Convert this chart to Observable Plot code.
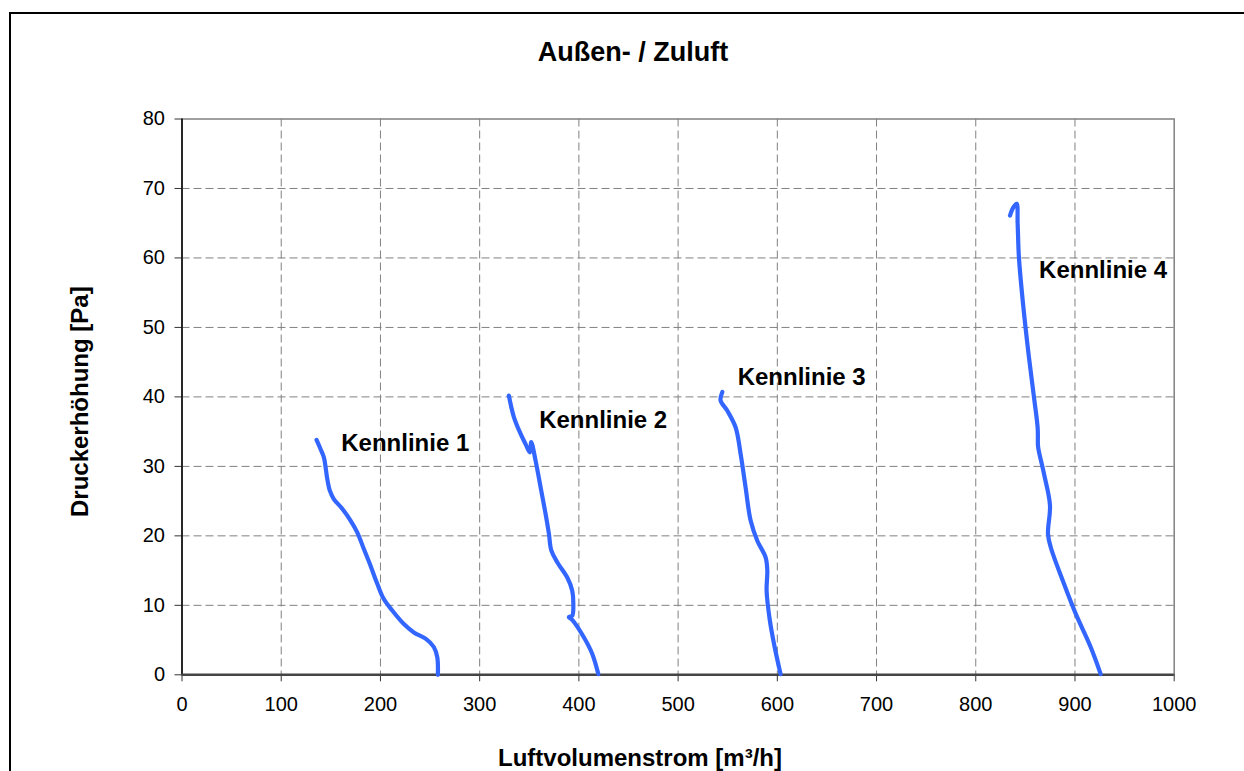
<!DOCTYPE html>
<html>
<head>
<meta charset="utf-8">
<script src="https://cdn.jsdelivr.net/npm/d3@7"></script>
<script src="https://cdn.jsdelivr.net/npm/@observablehq/plot@0.6"></script>
<style>
  html, body { margin: 0; padding: 0; background: #fff; overflow: hidden; }
  #wrap { position: relative; width: 1244px; height: 771px; overflow: hidden; }
  #border { position: absolute; left: 9px; top: 12px; width: 1400px; height: 900px;
            border-left: 2px solid #000; border-top: 2px solid #000; pointer-events: none; }
  #chart { position: absolute; left: 0; top: 0; }
</style>
</head>
<body>
<div id="wrap">
  <div id="border"></div>
  <div id="chart"></div>
</div>
<script>
// ---- data ----
const chartTitle = "Außen- / Zuluft";
const xTitle = "Luftvolumenstrom [m³/h]";
const yTitle = "Druckerhöhung [Pa]";

const xTicks = [0, 100, 200, 300, 400, 500, 600, 700, 800, 900, 1000];
const yTicks = [0, 10, 20, 30, 40, 50, 60, 70, 80];
const xGrid = [100, 200, 300, 400, 500, 600, 700, 800, 900];
const yGrid = [10, 20, 30, 40, 50, 60, 70];

const k1Flow = [135.6, 139.6, 143.0, 144.7, 146.4, 149.0, 153.0, 161.5, 169.9, 176.6, 183.3, 190.0, 196.8, 203.4, 211.9, 223.6, 233.7, 245.5, 253.8, 257.3, 257.9];
const k1Pres = [33.8, 32.5, 31.3, 29.9, 28.2, 26.5, 25.3, 23.9, 22.2, 20.5, 18.1, 15.7, 13.1, 10.9, 9.25, 7.3, 6.1, 5.2, 4.0, 2.5, 0];

const k2Flow = [329.4, 334.5, 341.2, 346.3, 350.6, 352.0, 356.4, 361.4, 366.4, 369.8, 372.2, 378.2, 388.3, 393.3, 394.4, 393.3, 389.9, 393.3, 405.0, 413.5, 419.6];
const k2Pres = [40.2, 37.1, 34.7, 33.2, 32.0, 33.5, 30.8, 27.0, 23.2, 20.3, 17.9, 16.2, 14.0, 12.1, 10.2, 8.5, 8.3, 7.9, 5.4, 3.0, 0.1];

const k3Flow = [544.6, 542.8, 549.6, 558.0, 563.0, 568.0, 573.1, 579.8, 588.2, 589.9, 589.2, 592.5, 597.3, 603.3];
const k3Pres = [40.7, 39.5, 38.0, 35.6, 31.8, 27.0, 22.2, 19.3, 16.9, 15.0, 12.1, 7.8, 4.0, 0.1];

const k4Flow = [834.5, 838.0, 841.2, 842.2, 843.5, 848.0, 853.6, 858.7, 862.4, 862.7, 863.4, 868.8, 874.8, 872.8, 875.5, 888.9, 900.7, 915.8, 925.9];
const k4Pres = [66.1, 67.3, 67.8, 65.0, 60.1, 52.9, 45.7, 39.9, 35.5, 33.0, 32.3, 28.9, 24.4, 20.3, 18.4, 13.1, 8.8, 4.0, 0.1];

const seriesNames = ["Kennlinie 1", "Kennlinie 2", "Kennlinie 3", "Kennlinie 4"];
const labelFlow = [160.5, 360.0, 560.0, 863.8];
const labelPres = [33.3, 36.6, 42.8, 58.2];

// ---- build tables ----
const flows = [k1Flow, k2Flow, k3Flow, k4Flow];
const press = [k1Pres, k2Pres, k3Pres, k4Pres];
const rows = [];
seriesNames.forEach((name, i) => {
  flows[i].forEach((v, j) => rows.push({series: name, v, p: press[i][j]}));
});
const labels = seriesNames.map((name, i) => ({text: name, v: labelFlow[i], p: labelPres[i]}));

const FONT = "'Liberation Sans', Arial, Helvetica, sans-serif";
const W = 1244, H = 771;
const mL = 181.5, mR = 70.3, mT = 118.5, mB = 96.7;

const plot = Plot.plot({
  width: W,
  height: H,
  marginLeft: mL,
  marginRight: mR,
  marginTop: mT,
  marginBottom: mB,
  style: {fontFamily: FONT, fontSize: "20px", color: "#000", background: "transparent", overflow: "visible"},
  x: {domain: [0, 1000], label: null},
  y: {domain: [0, 80], label: null},
  marks: [
    Plot.gridX(xGrid, {stroke: "#808080", strokeOpacity: 1, strokeWidth: 1, strokeDasharray: "8,4"}),
    Plot.gridY(yGrid, {stroke: "#808080", strokeOpacity: 1, strokeWidth: 1, strokeDasharray: "8,4"}),
    Plot.frame({stroke: "#808080", strokeWidth: 1.5}),
    Plot.axisX(xTicks, {tickSize: 7, tickPadding: 15, tickFormat: "d", fontSize: 20, stroke: "#333", label: null}),
    Plot.axisY(yTicks, {tickSize: 7, tickPadding: 10, tickFormat: "d", fontSize: 20, stroke: "#333", label: null}),
    Plot.ruleX([0], {stroke: "#000", strokeWidth: 1.5}),
    Plot.ruleY([0], {stroke: "#444", strokeWidth: 2.5}),
    Plot.line(rows, {x: "v", y: "p", z: "series", stroke: "#3366ff", strokeWidth: 4.2,
                     curve: "catmull-rom", strokeLinecap: "round", strokeLinejoin: "round"}),
    Plot.text(labels, {x: "v", y: "p", text: "text", textAnchor: "start", lineAnchor: "middle",
                       fontWeight: "bold", fontSize: 24, fill: "#000"})
  ]
});

document.getElementById("chart").appendChild(plot);

// titles as real SVG text
const svg = d3.select(plot);
svg.append("text")
  .attr("x", 633).attr("y", 61)
  .attr("text-anchor", "middle")
  .attr("font-family", FONT).attr("font-weight", "bold").attr("font-size", 27)
  .attr("fill", "#000")
  .text(chartTitle);
svg.append("text")
  .attr("x", 640).attr("y", 765.5)
  .attr("text-anchor", "middle")
  .attr("font-family", FONT).attr("font-weight", "bold").attr("font-size", 24)
  .attr("fill", "#000")
  .text(xTitle);
svg.append("text")
  .attr("transform", "translate(88.3,401.7) rotate(-90)")
  .attr("text-anchor", "middle")
  .attr("font-family", FONT).attr("font-weight", "bold").attr("font-size", 24)
  .attr("fill", "#000")
  .text(yTitle);
</script>
</body>
</html>
